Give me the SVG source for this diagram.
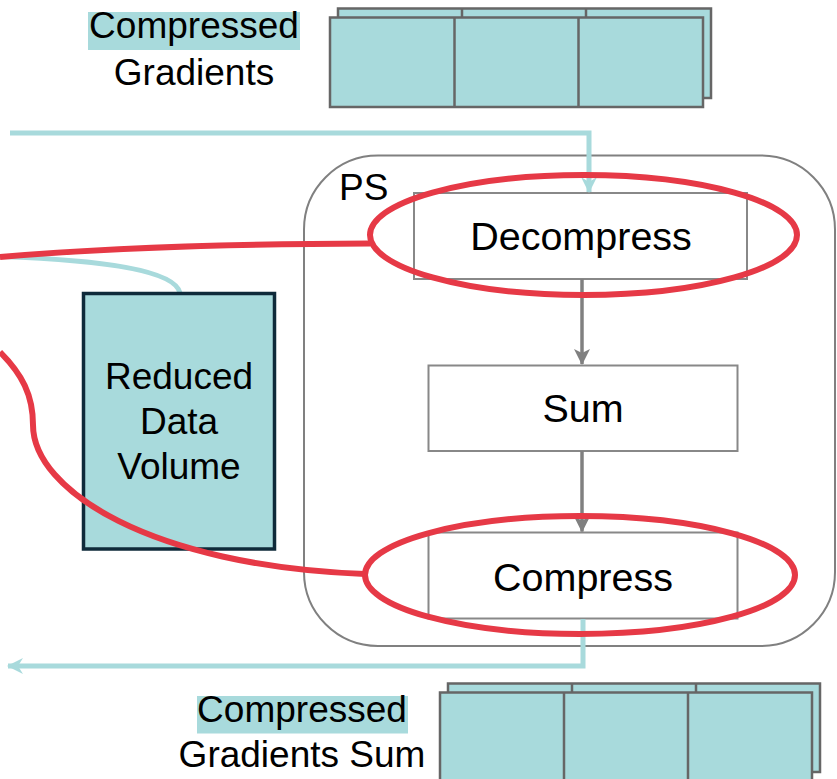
<svg xmlns="http://www.w3.org/2000/svg" width="837" height="779" viewBox="0 0 837 779">
  <defs>
    <style>
      text { font-family: "Liberation Sans", Arial, Helvetica, sans-serif; fill: #000; }
      .lbl { font-size: 37px; text-anchor: middle; }
      .box-lbl { font-size: 39.5px; text-anchor: middle; }
      .tensor { fill: #A8DADC; stroke: #666; stroke-width: 2.5; }
      .step { fill: #fff; stroke: #888; stroke-width: 2; }
      .hl { fill: #A8DADC; }
      .flow { fill: none; stroke: #A8DADC; stroke-width: 5; }
      .inner { fill: none; stroke: #808080; stroke-width: 3.5; }
      .mark { fill: none; stroke: #E63946; stroke-width: 6; }
    </style>
    <marker id="grayHead" viewBox="0 0 16 16" refX="15" refY="8" markerWidth="16" markerHeight="16" markerUnits="userSpaceOnUse" orient="auto">
      <path d="M0,0 L16,8 L0,16 L4,8 Z" fill="#808080"/>
    </marker>
    <marker id="tealHead" viewBox="0 0 16 16" refX="15" refY="8" markerWidth="16" markerHeight="16" markerUnits="userSpaceOnUse" orient="auto">
      <path d="M0,0 L16,8 L0,16 L5,8 Z" fill="#A8DADC"/>
    </marker>
  </defs>

  <rect width="837" height="779" fill="#fff"/>

  <!-- incoming compressed gradients -->
  <g id="compressed-gradients">
    <rect class="tensor" x="338" y="8.5" width="373" height="89.5"/>
    <line x1="462" y1="8.5" x2="462" y2="17.5" stroke="#666" stroke-width="2.5"/>
    <line x1="586" y1="8.5" x2="586" y2="17.5" stroke="#666" stroke-width="2.5"/>
    <rect class="tensor" x="330" y="17.5" width="373" height="89.5"/>
    <line x1="454.5" y1="17.5" x2="454.5" y2="107" stroke="#666" stroke-width="2.5"/>
    <line x1="578.5" y1="17.5" x2="578.5" y2="107" stroke="#666" stroke-width="2.5"/>
    <rect class="hl" x="88" y="12" width="212" height="38"/>
    <text class="lbl" x="194" y="38">Compressed</text>
    <text class="lbl" x="194" y="85">Gradients</text>
  </g>

  <!-- parameter server -->
  <g id="ps">
    <rect x="304" y="155.5" width="531" height="490.5" rx="74" ry="74" fill="none" stroke="#808080" stroke-width="2"/>
    <text x="339" y="200" style="font-size:37px">PS</text>
  </g>

  <g id="decompress">
    <rect class="step" x="414" y="193" width="333" height="86"/>
    <text class="box-lbl" x="581" y="250">Decompress</text>
  </g>

  <g id="sum">
    <rect class="step" x="428.5" y="365.5" width="309" height="85.5"/>
    <text class="box-lbl" x="583" y="421.5">Sum</text>
  </g>

  <g id="compress">
    <rect class="step" x="428.5" y="532.5" width="309" height="86"/>
    <text class="box-lbl" x="583" y="591">Compress</text>
  </g>

  <!-- outgoing compressed gradients sum -->
  <g id="compressed-gradients-sum">
    <rect class="tensor" x="448" y="683.5" width="372" height="88.5"/>
    <line x1="572" y1="683.5" x2="572" y2="692.5" stroke="#666" stroke-width="2.5"/>
    <line x1="696" y1="683.5" x2="696" y2="692.5" stroke="#666" stroke-width="2.5"/>
    <rect class="tensor" x="440" y="692.5" width="372" height="95"/>
    <line x1="564" y1="692.5" x2="564" y2="787" stroke="#666" stroke-width="2.5"/>
    <line x1="688" y1="692.5" x2="688" y2="787" stroke="#666" stroke-width="2.5"/>
    <rect class="hl" x="197" y="696" width="211" height="37.5"/>
    <text class="lbl" x="302" y="722">Compressed</text>
    <text class="lbl" x="302" y="767">Gradients Sum</text>
  </g>

  <g id="connectors">
    <path class="flow" d="M10,133 H589 V192" marker-end="url(#tealHead)"/>
    <path class="flow" d="M583,619 V666 H8" marker-end="url(#tealHead)"/>
    <path class="flow" d="M0,256.5 C100,260 175,270 180,293"/>
    <line class="inner" x1="582" y1="279" x2="582" y2="364" marker-end="url(#grayHead)"/>
    <line class="inner" x1="582" y1="451" x2="582" y2="531.5" marker-end="url(#grayHead)"/>
  </g>

  <g id="reduced-data-volume">
    <rect x="83.5" y="293.5" width="191" height="255.5" fill="#A8DADC" stroke="#0F2A3A" stroke-width="3.5"/>
    <text class="lbl" x="179" y="388.5">Reduced</text>
    <text class="lbl" x="179" y="433.5">Data</text>
    <text class="lbl" x="179" y="478.5">Volume</text>
  </g>

  <!-- highlighted compression stages -->
  <g id="highlights">
    <ellipse class="mark" cx="583.5" cy="235" rx="213.5" ry="60"/>
    <ellipse class="mark" cx="580" cy="575" rx="215" ry="59"/>
    <path class="mark" d="M0,257 Q150,244 370,243.5"/>
    <path class="mark" d="M0,352 C22,374 33,395 33,425 C33,490 150,566 365,574"/>
  </g>
</svg>
